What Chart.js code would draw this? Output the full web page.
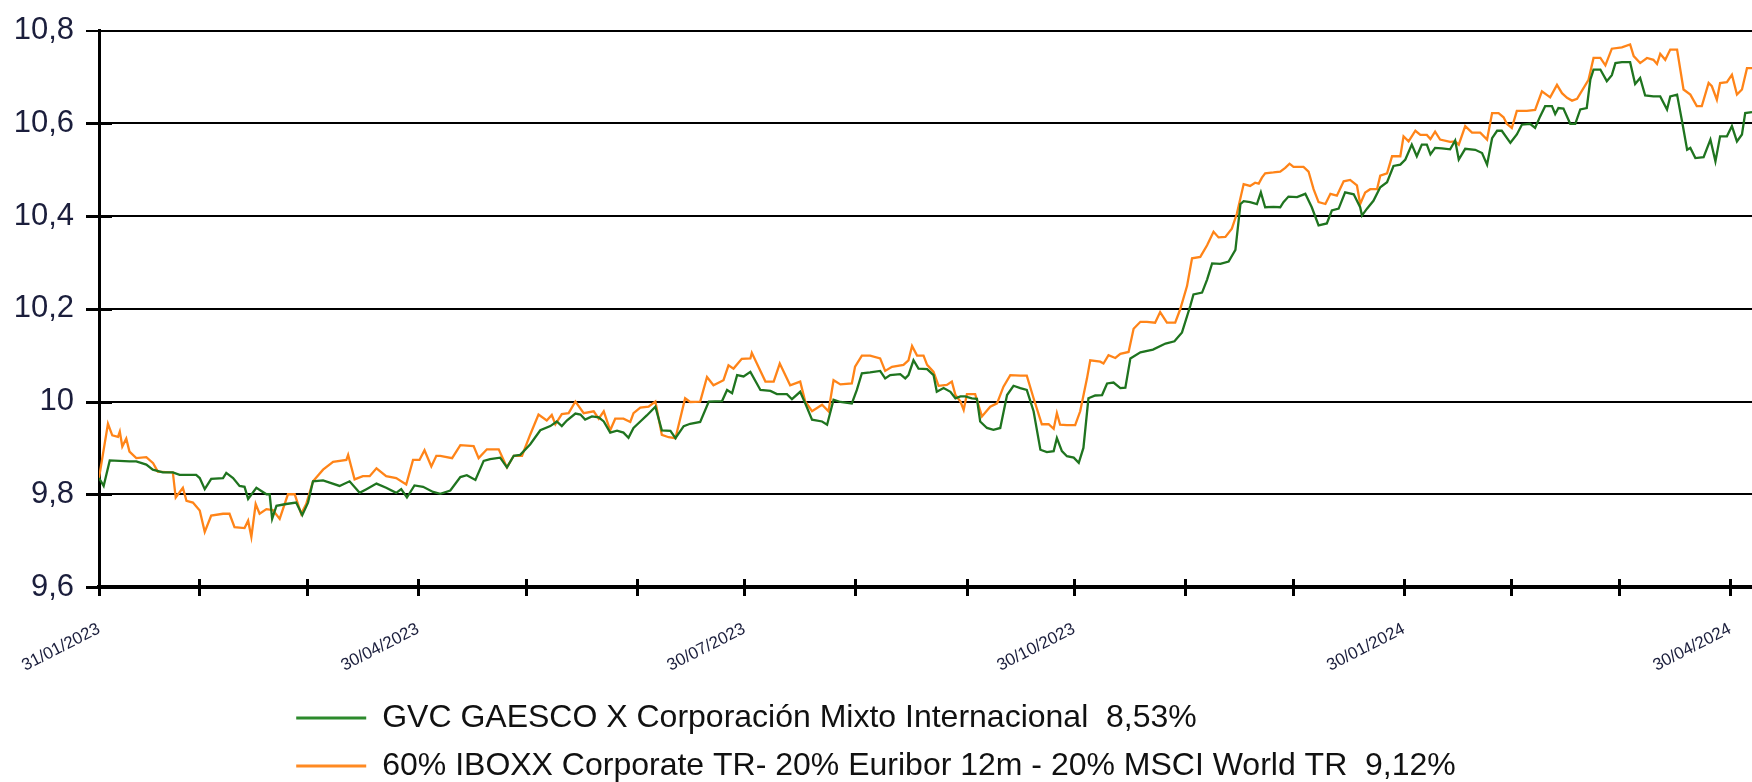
<!DOCTYPE html>
<html>
<head>
<meta charset="utf-8">
<script src="https://cdn.jsdelivr.net/npm/chart.js@4/dist/chart.umd.min.js"></script>
<style>
html,body{margin:0;padding:0;background:#fff;overflow:hidden}
#wrap{width:1752px;height:782px;position:relative}
</style>
</head>
<body>
<div id="wrap"><canvas id="c" width="1752" height="782"></canvas></div>
<script>
// ---- data (x = days since 31/01/2023) ----
const seriesNames = [
  'GVC GAESCO X Corporación Mixto Internacional  8,53%',
  '60% IBOXX Corporate TR- 20% Euribor 12m - 20% MSCI World TR  9,12%'
];
const gvcDays = [0,1.3,3.0,8.5,10.4,13.2,15.0,17.8,20.6,22.5,27.1,28.1,29.5,31.3,34.6,35.5,37.4,39.2,40.6,41.6,43.9,46.7,47.6,48.3,49.5,52.2,55.0,56.7,58.3,59.7,62.5,67.1,69.9,72.7,74.6,77.4,80.1,82.9,84.3,85.9,88.0,90.4,93.2,95.2,98.0,100.8,102.6,105.0,107.3,109.1,111.9,113.8,115.7,117.5,120.3,123.1,125.9,127.7,129.1,130.5,132.9,134.3,135.6,137.5,139.4,140.8,142.6,144.5,146.3,147.7,149.1,151.0,152.8,155.2,157.0,159.4,160.8,163.1,164.9,167.7,170.1,173.8,175.2,176.6,178.0,179.8,181.7,184.5,187.3,189.1,191.9,193.3,195.6,197.0,198.9,201.7,203.1,204.9,206.8,210.0,211.4,212.8,215.1,217.9,219.3,220.7,223.5,224.9,225.8,227.2,228.6,231.0,232.8,233.7,235.6,237.5,238.9,240.3,241.6,243.5,244.9,245.8,247.7,249.5,251.4,253.3,255.1,257.0,258.8,260.7,262.6,264.4,266.3,267.2,268.6,270.0,271.9,273.3,274.6,276.0,277.9,279.8,281.2,283.0,284.9,286.3,287.7,290.5,294.0,297.5,300.0,302.1,304.4,305.3,307.7,309.1,310.5,312.8,315.1,317.0,318.4,319.3,321.1,323.0,324.1,325.3,327.6,329.5,330.4,331.8,334.2,336.5,338.3,340.2,342.5,343.9,345.8,347.6,350.0,351.8,352.3,353.7,355.5,357.4,359.3,361.1,363.0,364.4,366.2,367.6,369.0,370.4,371.4,372.7,374.6,376.9,378.3,379.3,381.1,383.9,385.8,387.2,388.6,390.0,391.3,393.7,395.5,396.9,399.2,400.6,402.0,403.4,405.3,406.2,407.1,408.5,410.4,411.8,413.2,415.0,416.0,416.9,418.8,420.6,422.0,423.0,424.8,427.1,428.5,429.9,431.3,433.6,435.5,437.4,438.3,440.2,441.6,443.0,443.9,445.3,447.6,449.5,450.9,452.2,454.1,455.5,456.9,458.3,459.2,461.1];
const gvcValues = [9.835,9.818,9.873,9.871,9.871,9.864,9.853,9.847,9.847,9.842,9.842,9.835,9.811,9.833,9.835,9.846,9.835,9.818,9.816,9.790,9.814,9.800,9.800,9.747,9.775,9.779,9.782,9.755,9.782,9.828,9.830,9.818,9.828,9.803,9.811,9.823,9.814,9.803,9.811,9.793,9.819,9.816,9.805,9.801,9.808,9.837,9.841,9.831,9.872,9.876,9.879,9.858,9.883,9.885,9.908,9.938,9.947,9.957,9.947,9.959,9.974,9.972,9.961,9.968,9.966,9.957,9.933,9.937,9.933,9.922,9.943,9.957,9.970,9.989,9.938,9.937,9.921,9.947,9.952,9.956,10.000,10.001,10.025,10.018,10.057,10.054,10.064,10.025,10.023,10.016,10.016,10.005,10.021,9.996,9.961,9.957,9.950,10.004,9.999,9.996,10.025,10.061,10.063,10.066,10.050,10.057,10.059,10.050,10.057,10.089,10.071,10.070,10.057,10.021,10.029,10.021,10.007,10.011,10.011,10.007,10.006,9.957,9.943,9.939,9.943,10.014,10.034,10.029,10.025,9.979,9.896,9.891,9.893,9.921,9.893,9.882,9.879,9.868,9.900,10.007,10.013,10.014,10.039,10.041,10.029,10.030,10.093,10.106,10.112,10.125,10.130,10.149,10.206,10.231,10.235,10.263,10.298,10.297,10.302,10.327,10.426,10.432,10.430,10.426,10.451,10.419,10.420,10.419,10.430,10.442,10.441,10.448,10.419,10.380,10.384,10.412,10.416,10.451,10.447,10.419,10.401,10.416,10.433,10.462,10.473,10.508,10.511,10.522,10.554,10.529,10.554,10.554,10.533,10.547,10.546,10.544,10.563,10.522,10.545,10.543,10.536,10.511,10.568,10.584,10.584,10.558,10.576,10.597,10.599,10.590,10.615,10.637,10.637,10.620,10.633,10.632,10.599,10.599,10.630,10.633,10.694,10.716,10.716,10.691,10.704,10.730,10.732,10.732,10.685,10.698,10.660,10.658,10.658,10.630,10.658,10.662,10.604,10.543,10.547,10.525,10.527,10.565,10.518,10.572,10.572,10.594,10.561,10.576,10.622,10.624];
const benchDays = [0,2.5,3.7,5.3,5.8,6.5,7.6,8.5,10.4,13.2,15.1,16.4,20.6,21.4,23.4,24.4,26.2,28.1,29.5,31.3,34.6,36.4,37.8,40.6,41.6,42.5,43.7,44.8,46.7,48.5,50.4,52.7,54.6,56.4,57.8,59.7,62.5,65.3,69.0,69.5,71.3,73.6,75.5,77.4,80.1,82.9,85.7,87.6,89.4,90.8,92.7,94.1,95.2,98.5,100.8,104.5,105.9,108.2,111.5,113.8,115.7,118.0,120.3,122.6,124.9,126.3,127.3,129.1,131.0,132.9,135.2,138.0,139.4,140.8,142.6,144.0,146.3,148.2,149.1,151.0,153.3,155.2,157.0,158.9,160.8,163.5,164.9,167.7,169.6,171.4,174.2,175.6,177.0,179.3,181.7,182.1,185.9,188.2,189.9,192.8,195.6,197.0,198.9,201.7,203.5,204.9,206.8,210.0,210.9,212.8,215.1,217.9,219.3,221.2,224.4,225.8,226.8,228.2,230.0,231.0,232.8,234.2,236.5,237.9,238.9,240.3,241.2,242.1,244.4,246.3,248.6,250.5,252.3,254.2,257.0,258.8,260.7,263.0,264.9,266.3,267.2,268.1,270.0,272.3,273.7,275.6,276.5,279.3,280.2,281.6,283.5,284.9,287.2,288.6,290.5,292.3,294.6,296.0,297.9,300.2,301.6,303.5,304.9,307.2,309.1,310.9,312.3,314.2,316.0,317.4,319.3,321.1,322.5,323.5,324.4,325.3,327.6,329.5,330.9,332.1,333.2,336.0,337.4,338.8,340.2,342.1,343.5,345.3,347.2,349.0,350.9,351.8,353.2,354.6,356.5,357.4,359.3,360.7,363.0,363.9,365.3,367.2,368.6,370.4,371.4,372.7,374.1,376.9,378.3,379.3,381.1,383.0,385.3,387.2,388.6,390.4,391.8,392.7,394.1,395.5,398.3,400.6,402.5,404.8,406.7,408.1,409.5,410.9,412.3,414.1,415.5,416.9,418.8,420.2,422.0,424.8,427.1,428.1,429.9,431.8,433.6,434.6,435.5,436.9,438.3,440.2,442.0,443.9,445.7,447.1,449.0,449.9,451.3,452.2,454.1,455.5,456.9,458.3,459.7,461.1];
const benchValues = [9.835,9.952,9.927,9.924,9.935,9.903,9.920,9.892,9.878,9.880,9.867,9.849,9.847,9.793,9.814,9.786,9.782,9.765,9.719,9.754,9.758,9.758,9.729,9.727,9.743,9.708,9.779,9.758,9.768,9.766,9.747,9.800,9.800,9.758,9.779,9.828,9.853,9.870,9.874,9.885,9.832,9.839,9.839,9.856,9.839,9.835,9.821,9.874,9.874,9.895,9.860,9.883,9.883,9.878,9.906,9.904,9.878,9.897,9.897,9.858,9.883,9.883,9.929,9.972,9.959,9.971,9.951,9.973,9.975,10.000,9.975,9.979,9.963,9.979,9.938,9.963,9.963,9.956,9.975,9.987,9.989,10.000,9.928,9.923,9.921,10.007,9.999,10.000,10.053,10.035,10.046,10.078,10.071,10.092,10.093,10.105,10.043,10.043,10.082,10.035,10.043,10.000,9.979,9.993,9.979,10.046,10.037,10.039,10.075,10.099,10.099,10.093,10.066,10.075,10.079,10.089,10.120,10.099,10.099,10.079,10.064,10.034,10.036,10.043,10.014,10.000,9.982,10.016,10.016,9.968,9.989,9.996,10.032,10.057,10.056,10.056,10.007,9.951,9.951,9.941,9.975,9.950,9.949,9.949,9.979,10.050,10.089,10.086,10.082,10.100,10.094,10.103,10.107,10.157,10.172,10.172,10.170,10.193,10.170,10.170,10.199,10.249,10.309,10.312,10.337,10.366,10.354,10.355,10.373,10.405,10.469,10.465,10.472,10.470,10.483,10.492,10.494,10.496,10.504,10.513,10.506,10.506,10.496,10.458,10.430,10.426,10.448,10.444,10.475,10.478,10.466,10.426,10.451,10.458,10.458,10.487,10.492,10.529,10.529,10.572,10.561,10.584,10.575,10.575,10.566,10.582,10.565,10.560,10.561,10.554,10.594,10.580,10.580,10.565,10.622,10.622,10.613,10.599,10.590,10.627,10.627,10.629,10.669,10.656,10.683,10.665,10.655,10.649,10.653,10.676,10.694,10.741,10.741,10.725,10.761,10.764,10.770,10.745,10.730,10.741,10.737,10.728,10.750,10.737,10.759,10.759,10.673,10.662,10.637,10.637,10.687,10.680,10.651,10.687,10.689,10.705,10.662,10.673,10.719,10.719];
const xTickDays = [0,28,58,89,119,150,180,211,242,272,303,333,364,394,424,455];
const xTickLabels = ['31/01/2023','','','30/04/2023','','','30/07/2023','','','30/10/2023','','','30/01/2024','','','30/04/2024'];
const yTickValues = [9.6,9.8,10,10.2,10.4,10.6,10.8];
const yTickLabels = ['9,6','9,8','10','10,2','10,4','10,6','10,8'];
const xMin = 0, xMax = 461.1;

// ---- rendering ----
const FONT = '"Liberation Sans", Arial, Helvetica, sans-serif';
const INK = '#1b1e3c';
const PLOT_BOTTOM = 587;
const LEGEND_FIRST_ROW_CENTER = 718;

const zip = (xs, ys) => xs.map((x, i) => ({x, y: ys[i]}));
const labelFor = (vals, labels, v) => {
  const i = vals.findIndex(t => Math.abs(t - v) < 1e-6);
  return i < 0 ? '' : labels[i];
};

const tickMarks = {
  id: 'tickMarks',
  afterDatasetsDraw(chart) {
    const {ctx, chartArea, scales: {x, y}} = chart;
    ctx.save();
    ctx.strokeStyle = '#000';
    ctx.lineWidth = 3;
    ctx.beginPath();
    x.ticks.forEach(t => {
      const px = Math.round(x.getPixelForValue(t.value)) + 0.5;
      ctx.moveTo(px, chartArea.bottom - 8);
      ctx.lineTo(px, chartArea.bottom + 9);
    });
    y.ticks.forEach(t => {
      if (t.value >= y.max - 1e-9) return;
      const py = Math.round(y.getPixelForValue(t.value)) + 0.5;
      ctx.moveTo(chartArea.left - 13, py);
      ctx.lineTo(chartArea.left + 13, py);
    });
    ctx.stroke();
    ctx.restore();
  }
};

const legendPlacer = {
  id: 'legendPlacer',
  afterLayout(chart) {
    const lg = chart.legend;
    if (!lg || !lg.lineWidths) return;
    const pad = lg.options.labels.padding;
    const fontSize = lg.options.labels.font.size;
    const widest = Math.max(...lg.lineWidths) - pad;
    const start = (chart.width - widest) / 2;
    lg.left = start - pad;
    lg.right = lg.left + widest + 2 * pad;
    lg.top = LEGEND_FIRST_ROW_CENTER - pad - fontSize / 2;
  }
};

new Chart(document.getElementById('c'), {
  type: 'line',
  data: {
    datasets: [
      {label: seriesNames[0], data: zip(gvcDays, gvcValues), borderColor: '#1f741f', backgroundColor: '#2c8a2c', borderWidth: 2.3, pointRadius: 0, tension: 0},
      {label: seriesNames[1], data: zip(benchDays, benchValues), borderColor: '#ff8418', backgroundColor: '#ff8a22', borderWidth: 2.3, pointRadius: 0, tension: 0}
    ]
  },
  options: {
    responsive: false,
    animation: false,
    devicePixelRatio: 1,
    layout: {padding: {top: 26, left: 0, right: 0, bottom: 0}},
    plugins: {
      tooltip: {enabled: false},
      legend: {
        position: 'bottom',
        align: 'start',
        labels: {
          boxWidth: 70,
          boxHeight: 3,
          padding: 16,
          color: '#111',
          font: {family: FONT, size: 32},
          generateLabels: (chart) => Chart.defaults.plugins.legend.labels.generateLabels(chart)
            .map(l => Object.assign(l, {fillStyle: chart.data.datasets[l.datasetIndex].backgroundColor, lineWidth: 0}))
        }
      }
    },
    scales: {
      x: {
        type: 'linear',
        min: xMin,
        max: xMax,
        afterBuildTicks: s => { s.ticks = xTickDays.map(v => ({value: v})); },
        afterFit: s => {
          const lh = s.chart.legend ? s.chart.legend.height : 106;
          s.height = s.chart.height - PLOT_BOTTOM - lh;
        },
        ticks: {
          autoSkip: false,
          minRotation: 27,
          maxRotation: 27,
          padding: 10,
          color: INK,
          font: {family: FONT, size: 17},
          callback: v => labelFor(xTickDays, xTickLabels, v)
        },
        grid: {drawOnChartArea: false, drawTicks: true, tickLength: 22, tickColor: 'rgba(0,0,0,0)'},
        border: {display: true, color: '#000', width: 4}
      },
      y: {
        min: 9.6,
        max: 10.8,
        afterBuildTicks: s => { s.ticks = yTickValues.map(v => ({value: v})); },
        afterFit: s => { s.width = 99; },
        ticks: {
          padding: 12,
          color: INK,
          font: {family: FONT, size: 31},
          callback: v => labelFor(yTickValues, yTickLabels, v)
        },
        grid: {color: '#000', lineWidth: 2, drawTicks: true, tickLength: 13, tickColor: '#000', tickWidth: 2},
        border: {display: true, color: '#000', width: 3}
      }
    }
  },
  plugins: [tickMarks, legendPlacer]
});
</script>
</body>
</html>
